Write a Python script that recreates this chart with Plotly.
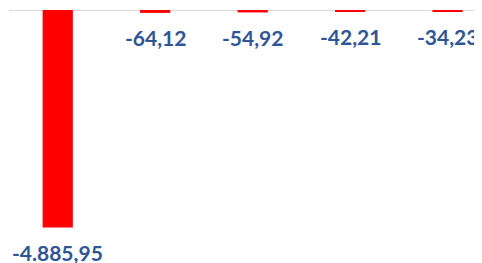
import plotly.graph_objects as go

categories = ["A", "B", "C", "D", "E"]
values = [-4885.95, -64.12, -54.92, -42.21, -34.23]
labels = ["-4.885,95", "-64,12", "-54,92", "-42,21", "-34,23"]

fig = go.Figure()
fig.add_trace(go.Bar(
    x=categories, y=values, marker=dict(color="#FF0000", line=dict(width=0)),
    width=0.31, hoverinfo="skip"
))

for c, v, t in zip(categories, values, labels):
    fig.add_annotation(x=c, y=v, text=t, showarrow=False, yshift=-25,
                       yanchor="middle", xanchor="center",
                       font=dict(family="Lato", size=21, color="#2F5597", weight="bold"))

fig.add_shape(type="line", xref="paper", yref="y", x0=0, x1=1, y0=0, y1=0,
              line=dict(color="#D9D9D9", width=2), layer="below")

fig.update_layout(
    width=482, height=263,
    margin=dict(l=1, r=0, t=2, b=0),
    paper_bgcolor="white", plot_bgcolor="white",
    showlegend=False,
    xaxis=dict(visible=False, range=[-0.5, 4.435]),
    yaxis=dict(visible=False, range=[-5863, 0]),
)
fig.write_html("out.html")
